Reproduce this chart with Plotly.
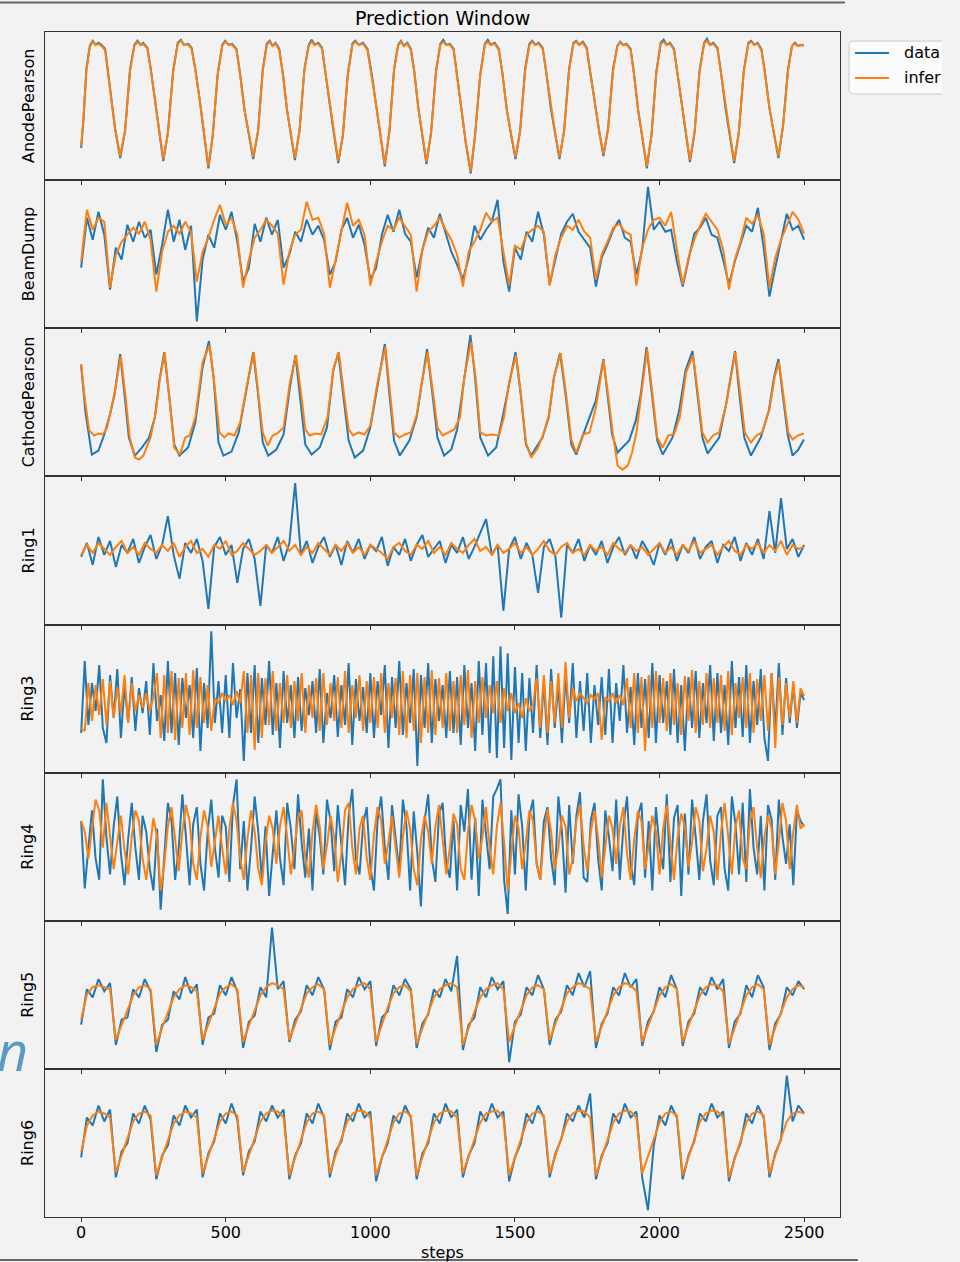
import plotly.graph_objects as go
from plotly.subplots import make_subplots

# ---------------------------------------------------------------- data
step_ticks = [0, 500, 1000, 1500, 2000, 2500]
steps_20 = list(range(0, 2501, 20))
steps_12 = [i * 12.5 for i in range(201)]

anode_steps = [
    0, 8, 18, 30, 40, 50, 60, 70, 83, 100, 117, 135,
    152, 169, 184, 195, 205, 215, 229, 240, 255, 268, 284,
    300, 318, 334, 345, 355, 370, 382, 395, 410, 425, 440,
    455, 472, 488, 498, 510, 522, 537, 550, 565, 580, 595,
    612, 628, 642, 652, 662, 672, 685, 698, 712, 725, 739,
    755, 772, 787, 797, 807, 820, 833, 845, 860, 875, 889,
    905, 922, 938, 948, 960, 975, 990, 1005, 1020, 1035, 1050,
    1066, 1082, 1096, 1106, 1116, 1128, 1140, 1152, 1166, 1180, 1194,
    1210, 1227, 1242, 1252, 1262, 1275, 1288, 1300, 1315, 1330, 1347,
    1362, 1380, 1396, 1406, 1416, 1430, 1444, 1456, 1472, 1487, 1502,
    1518, 1535, 1550, 1560, 1570, 1582, 1596, 1608, 1624, 1640, 1654,
    1670, 1687, 1702, 1712, 1722, 1735, 1748, 1760, 1776, 1792, 1806,
    1822, 1839, 1854, 1864, 1874, 1886, 1900, 1912, 1926, 1942, 1956,
    1972, 1989, 2004, 2014, 2024, 2036, 2050, 2062, 2077, 2092, 2105,
    2121, 2138, 2154, 2164, 2174, 2186, 2200, 2212, 2228, 2244, 2258,
    2274, 2291, 2307, 2317, 2327, 2339, 2352, 2364, 2380, 2396, 2411,
    2427, 2444, 2458, 2468, 2478, 2490, 2499,
]
anode_data = [
    33, 60, 110, 133, 138, 134, 136, 134, 130, 93, 53, 23,
    50, 110, 134, 138, 134, 136, 131, 112, 80, 52, 20,
    48, 108, 136, 139, 134, 135, 131, 110, 80, 45, 13,
    45, 105, 134, 138, 134, 135, 130, 105, 70, 45, 22,
    50, 110, 135, 138, 133, 136, 130, 105, 70, 45, 21,
    50, 110, 134, 139, 134, 136, 131, 108, 75, 45, 18,
    45, 105, 135, 138, 134, 136, 130, 105, 75, 45, 15,
    50, 110, 134, 138, 133, 136, 130, 108, 72, 42, 17,
    48, 108, 135, 139, 134, 135, 130, 105, 70, 38, 8,
    45, 105, 135, 139, 134, 136, 130, 108, 70, 45, 22,
    50, 110, 135, 138, 134, 136, 131, 108, 72, 45, 22,
    50, 110, 136, 138, 134, 137, 131, 108, 75, 48, 25,
    52, 110, 133, 137, 134, 135, 130, 105, 70, 40, 13,
    45, 108, 136, 139, 134, 136, 130, 106, 72, 45, 19,
    48, 108, 136, 140, 134, 136, 131, 108, 72, 45, 18,
    48, 108, 136, 138, 134, 136, 130, 108, 72, 45, 23,
    55, 110, 133, 136, 133, 134, 133,
]
anode_infer = [
    35, 62, 108, 132, 137, 134, 135, 133, 129, 92, 52, 25,
    50, 108, 133, 137, 134, 135, 130, 111, 80, 52, 22,
    47, 107, 135, 138, 134, 134, 130, 109, 80, 46, 15,
    45, 104, 133, 137, 134, 134, 129, 104, 70, 46, 24,
    50, 108, 134, 137, 133, 135, 129, 104, 70, 46, 23,
    49, 109, 133, 137, 134, 135, 130, 107, 75, 46, 20,
    45, 104, 134, 137, 134, 135, 129, 104, 75, 46, 17,
    49, 109, 133, 137, 133, 135, 129, 107, 72, 43, 19,
    48, 107, 134, 137, 134, 134, 129, 104, 70, 39, 10,
    45, 104, 134, 137, 134, 135, 129, 107, 70, 46, 24,
    50, 108, 134, 137, 134, 135, 130, 107, 72, 46, 24,
    49, 108, 135, 137, 134, 136, 130, 107, 75, 48, 27,
    51, 108, 133, 136, 134, 134, 129, 104, 70, 41, 15,
    45, 107, 135, 137, 134, 135, 129, 105, 72, 46, 21,
    48, 107, 135, 138, 134, 135, 130, 107, 72, 46, 20,
    48, 107, 135, 137, 134, 135, 129, 107, 72, 46, 25,
    54, 108, 133, 135, 133, 134, 134,
]

beamdump_data = [
    62, 112, 90, 118, 95, 40, 82, 70, 105, 88,
    108, 92, 100, 55, 85, 120, 88, 110, 80, 104,
    8, 70, 95, 82, 115, 100, 118, 88, 48, 62,
    106, 88, 112, 95, 110, 62, 75, 98, 88, 110,
    95, 104, 90, 55, 68, 100, 112, 92, 105, 85,
    50, 62, 95, 115, 98, 120, 96, 88, 52, 80,
    102, 92, 116, 96, 78, 65, 50, 72, 104, 90,
    100, 108, 130, 68, 38, 82, 70, 98, 88, 118,
    95, 45, 72, 96, 108, 116, 98, 90, 82, 43,
    72, 85, 100, 110, 92, 88, 55, 80, 143, 100,
    108, 98, 100, 68, 43, 70, 96, 102, 112, 95,
    92, 70, 45, 68, 85, 104, 98, 122, 82, 33,
    62, 90, 116, 100, 104, 90,
]
beamdump_infer = [
    68, 120, 100, 112, 108, 42, 75, 88, 95, 102,
    96, 108, 90, 38, 78, 98, 104, 96, 108, 98,
    48, 78, 92, 110, 125, 105, 112, 95, 42, 70,
    92, 100, 110, 104, 96, 45, 78, 95, 100, 128,
    110, 112, 96, 42, 70, 98, 127, 104, 110, 95,
    44, 68, 88, 104, 100, 112, 104, 95, 38, 80,
    98, 104, 112, 100, 90, 75, 43, 78, 88, 100,
    117, 108, 112, 80, 44, 84, 80, 95, 100, 104,
    98, 44, 75, 92, 104, 100, 110, 98, 92, 50,
    75, 88, 102, 106, 98, 95, 44, 82, 100, 110,
    112, 104, 118, 80, 45, 72, 90, 104, 116, 108,
    100, 80, 40, 70, 88, 112, 106, 115, 96, 42,
    72, 90, 104, 118, 110, 96,
]

cathode_data_steps = [
    0, 15, 37, 60, 80, 100, 115, 135, 150, 165, 186, 210, 235, 255, 270, 287,
    305, 322, 340, 370, 395, 420, 442, 458, 475, 492, 520, 545, 570, 595,
    612, 628, 647, 675, 700, 722, 741, 757, 775, 797, 825, 850, 872, 889,
    907, 925, 946, 975, 1000, 1025, 1050, 1066, 1082, 1102, 1135, 1160, 1178, 1196,
    1214, 1232, 1255, 1280, 1300, 1325, 1346, 1362, 1380, 1407, 1435, 1455, 1480, 1502,
    1520, 1538, 1556, 1595, 1617, 1635, 1656, 1675, 1695, 1712, 1745, 1780, 1806,
    1820, 1836, 1855, 1895, 1918, 1935, 1955, 1975, 1992, 2011, 2045, 2068, 2090, 2114,
    2132, 2148, 2166, 2206, 2230, 2261, 2276, 2293, 2316, 2350, 2378, 2396, 2411,
    2425, 2443, 2460, 2480, 2499,
]
cathode_data = [
    112, 65, 23, 27, 43, 63, 82, 123, 83, 40, 22, 30, 40, 60, 95, 125,
    80, 33, 22, 30, 55, 110, 136, 100, 35, 22, 26, 45, 85, 125,
    83, 35, 22, 28, 43, 90, 122, 83, 33, 23, 30, 50, 107, 124,
    83, 37, 20, 27, 50, 90, 133, 83, 37, 22, 37, 60, 93, 128,
    85, 40, 22, 28, 48, 100, 142, 100, 40, 22, 30, 57, 95, 125,
    83, 33, 22, 40, 60, 100, 124, 83, 33, 23, 50, 77, 118,
    83, 43, 25, 37, 57, 83, 130, 83, 37, 23, 40, 67, 107, 126,
    83, 40, 24, 40, 73, 126, 83, 40, 22, 40, 67, 100, 118,
    83, 43, 22, 28, 38,
]
cathode_infer_steps = [
    0, 12, 28, 45, 60, 75, 90, 105, 118, 137, 152, 168, 186, 200, 215, 240,
    258, 272, 289, 305, 322, 342, 360, 375, 395, 420, 444, 460, 478, 495,
    510, 530, 550, 572, 597, 612, 628, 645, 662, 678, 700, 722, 743, 760,
    775, 790, 810, 830, 852, 872, 891, 908, 925, 940, 960, 980, 1000, 1025,
    1052, 1068, 1082, 1100, 1120, 1140, 1160, 1178, 1198, 1215, 1232, 1250, 1270, 1290,
    1310, 1325, 1348, 1364, 1380, 1400, 1420, 1445, 1462, 1480, 1504, 1520, 1538, 1556,
    1580, 1600, 1617, 1635, 1658, 1676, 1695, 1712, 1735, 1758, 1780, 1806, 1822, 1838,
    1855, 1872, 1890, 1905, 1920, 1938, 1957, 1975, 1992, 2011, 2030, 2050, 2070, 2092,
    2116, 2132, 2148, 2166, 2185, 2206, 2232, 2262, 2278, 2295, 2316, 2335, 2355, 2380,
    2398, 2413, 2428, 2445, 2460, 2478, 2499,
]
cathode_infer = [
    113, 80, 47, 42, 44, 43, 50, 70, 88, 121, 85, 40, 20, 18, 22, 40,
    65, 98, 125, 80, 30, 23, 40, 42, 60, 115, 132, 95, 45, 40,
    44, 42, 55, 90, 125, 85, 45, 32, 42, 44, 50, 95, 122, 85,
    48, 42, 44, 43, 60, 108, 125, 85, 48, 42, 45, 43, 52, 95,
    130, 85, 45, 40, 43, 45, 62, 95, 125, 88, 50, 42, 45, 48,
    60, 100, 135, 100, 45, 42, 43, 42, 60, 95, 122, 85, 35, 20,
    30, 45, 62, 100, 124, 85, 38, 25, 43, 45, 70, 117, 83, 45,
    12, 8, 12, 25, 45, 83, 128, 85, 40, 30, 42, 43, 60, 105,
    122, 85, 45, 35, 42, 45, 75, 125, 85, 45, 35, 42, 45, 68,
    100, 115, 83, 45, 38, 42, 44,
]

ring1_data = [
    68, 82, 60, 88, 70, 84, 58, 80, 72, 86,
    62, 78, 90, 66, 80, 109, 70, 46, 82, 72,
    86, 64, 16, 78, 88, 70, 80, 42, 76, 86,
    66, 19, 80, 72, 88, 64, 82, 142, 70, 84,
    62, 78, 88, 68, 80, 60, 84, 72, 86, 66,
    80, 74, 88, 59, 78, 70, 86, 64, 80, 90,
    68, 76, 84, 62, 80, 72, 88, 66, 78, 92,
    106, 70, 80, 14, 76, 88, 66, 82, 70, 32,
    78, 86, 68, 7, 80, 72, 86, 64, 80, 70,
    84, 62, 78, 88, 70, 80, 66, 84, 74, 60,
    82, 70, 86, 64, 80, 72, 88, 66, 78, 84,
    62, 80, 74, 88, 64, 82, 70, 86, 66, 114,
    72, 127, 76, 86, 68, 80,
]
ring1_infer = [
    70, 80, 72, 82, 76, 70, 78, 84, 72, 78,
    70, 82, 76, 72, 80, 74, 82, 68, 78, 84,
    72, 76, 68, 80, 76, 84, 70, 74, 82, 76,
    70, 74, 80, 72, 78, 84, 74, 80, 70, 78,
    72, 82, 76, 70, 80, 74, 82, 72, 78, 70,
    80, 76, 72, 66, 78, 82, 74, 70, 80, 76,
    84, 72, 78, 70, 82, 76, 72, 80, 86, 74,
    78, 70, 80, 72, 76, 82, 72, 78, 70, 76,
    84, 74, 70, 78, 82, 72, 76, 70, 80, 74,
    78, 70, 82, 76, 72, 80, 74, 78, 70, 76,
    82, 72, 78, 70, 80, 74, 84, 72, 76, 80,
    70, 78, 84, 74, 70, 80, 76, 82, 72, 80,
    74, 84, 70, 80, 76, 78,
]

ring3_data = [
    40, 112, 48, 90, 62, 108, 45, 30,
    98, 55, 104, 35, 88, 50, 96, 42,
    85, 60, 92, 38, 110, 52, 78, 32,
    112, 40, 100, 28, 95, 55, 88, 35,
    105, 22, 90, 45, 142, 50, 92, 40,
    98, 35, 110, 55, 84, 12, 100, 40,
    108, 30, 95, 48, 112, 38, 90, 25,
    102, 50, 88, 35, 96, 42, 85, 58,
    92, 40, 104, 30, 80, 55, 98, 36,
    88, 48, 110, 28, 94, 52, 86, 40,
    100, 35, 92, 58, 108, 25, 96, 45,
    112, 38, 90, 50, 104, 7, 98, 45,
    110, 30, 94, 52, 88, 35, 102, 40,
    96, 28, 108, 45, 90, 22, 112, 38,
    110, 20, 117, 15, 127, 25, 120, 13,
    106, 30, 100, 22, 95, 40, 108, 35,
    92, 28, 104, 45, 88, 30, 98, 50,
    110, 35, 92, 42, 100, 30, 88, 48,
    96, 38, 104, 30, 90, 52, 108, 40,
    86, 28, 100, 45, 94, 35, 110, 30,
    98, 50, 92, 38, 104, 30, 88, 22,
    96, 45, 102, 35, 90, 50, 108, 32,
    100, 40, 88, 28, 112, 45, 96, 36,
    108, 30, 92, 48, 104, 35, 12, 100,
    42, 110, 38, 95, 50, 88, 45, 80, 73,
]
ring3_infer = [
    45, 42, 90, 52, 88, 58, 94, 48,
    92, 55, 86, 60, 98, 50, 90, 62,
    78, 65, 80, 62, 76, 100, 35, 98,
    40, 102, 33, 95, 45, 100, 38, 103,
    45, 96, 50, 88, 42, 75, 70, 80,
    72, 78, 68, 82, 70, 102, 40, 98,
    23, 100, 35, 95, 48, 102, 42, 90,
    50, 98, 45, 92, 52, 100, 40, 88,
    55, 95, 42, 100, 48, 90, 52, 96,
    45, 102, 40, 88, 55, 98, 42, 92,
    50, 96, 45, 100, 40, 90, 55, 95,
    38, 102, 35, 98, 42, 100, 30, 96,
    40, 103, 38, 95, 45, 100, 42, 92,
    40, 98, 48, 103, 35, 92, 50, 96,
    55, 88, 60, 92, 50, 85, 62, 80,
    60, 70, 55, 75, 62, 68, 95, 45,
    98, 40, 92, 50, 100, 45, 111, 55,
    85, 72, 80, 75, 70, 78, 74, 80,
    33, 76, 72, 80, 70, 78, 68, 95,
    45, 100, 40, 96, 22, 98, 45, 102,
    50, 95, 42, 100, 48, 90, 38, 97,
    52, 103, 40, 92, 48, 100, 45, 95,
    50, 98, 42, 102, 38, 90, 55, 96,
    45, 100, 40, 94, 52, 98, 42, 100,
    25, 96, 48, 90, 55, 92, 50, 85, 77,
]

ring4_data = [
    95, 32, 70, 105, 60, 40, 134, 80,
    45, 90, 118, 65, 35, 78, 112, 70,
    40, 100, 85, 50, 30, 88, 12, 60,
    112, 95, 40, 70, 120, 80, 35, 92,
    108, 55, 30, 85, 115, 70, 42, 100,
    90, 38, 110, 134, 50, 95, 30, 70,
    118, 85, 40, 90, 25, 65, 105, 60,
    35, 112, 88, 50, 120, 75, 42, 88,
    30, 104, 80, 45, 115, 95, 48, 110,
    70, 35, 100, 125, 60, 45, 92, 108,
    52, 30, 96, 118, 70, 40, 110, 80,
    48, 115, 90, 30, 104, 65, 15, 95,
    120, 60, 38, 102, 112, 55, 42, 96,
    30, 110, 85, 125, 40, 98, 25, 115,
    80, 50, 118, 125, 134, 40, 8, 105,
    45, 120, 90, 30, 100, 115, 55, 40,
    95, 108, 60, 35, 118, 85, 28, 110,
    55, 100, 122, 42, 38, 96, 112, 60,
    30, 105, 80, 48, 115, 40, 90, 118,
    55, 35, 100, 112, 42, 95, 30, 108,
    70, 50, 120, 38, 98, 110, 25, 102,
    45, 115, 80, 40, 95, 120, 58, 35,
    100, 108, 50, 30, 118, 92, 45, 112,
    38, 125, 70, 45, 100, 30, 110, 96,
    40, 115, 80, 55, 92, 35, 105, 95, 90,
]
ring4_infer = [
    95, 85, 60, 90, 115, 105, 70, 112,
    80, 50, 75, 100, 68, 45, 80, 105,
    95, 60, 40, 70, 98, 80, 30, 55,
    90, 108, 75, 48, 85, 110, 95, 55,
    40, 80, 105, 90, 52, 75, 100, 70,
    45, 88, 112, 95, 60, 40, 78, 105,
    85, 50, 35, 75, 100, 88, 55, 90,
    108, 80, 45, 70, 98, 105, 60, 42,
    85, 110, 90, 50, 72, 100, 80, 38,
    65, 105, 112, 70, 45, 88, 100, 60,
    40, 82, 108, 95, 55, 75, 100, 70,
    42, 80, 105, 88, 50, 35, 78, 100,
    85, 55, 90, 110, 75, 45, 70, 102,
    92, 50, 40, 85, 110, 95, 60, 80,
    108, 70, 45, 90, 112, 75, 30, 65,
    100, 88, 50, 75, 105, 95, 55, 40,
    80, 106, 85, 50, 70, 100, 90, 45,
    60, 95, 110, 72, 48, 85, 105, 80,
    42, 70, 100, 88, 55, 90, 108, 65,
    40, 78, 104, 95, 50, 72, 100, 85,
    45, 88, 110, 75, 40, 80, 102, 90,
    52, 75, 108, 95, 48, 70, 100, 85,
    40, 85, 112, 80, 45, 90, 105, 60,
    50, 95, 108, 70, 42, 80, 100, 88,
    45, 75, 112, 95, 50, 85, 110, 88, 92,
]

ring5_data = [
    45, 80, 72, 90, 78, 86, 25, 50, 52, 80,
    72, 90, 78, 18, 45, 50, 78, 70, 92, 76,
    85, 25, 52, 56, 84, 74, 92, 78, 22, 48,
    54, 82, 72, 141, 80, 88, 28, 50, 58, 84,
    74, 92, 80, 20, 48, 52, 80, 72, 92, 80,
    88, 24, 52, 58, 84, 74, 90, 80, 22, 46,
    55, 80, 72, 90, 78, 113, 20, 45, 52, 82,
    72, 92, 80, 88, 8, 48, 55, 82, 74, 94,
    80, 25, 50, 58, 84, 74, 96, 82, 98, 22,
    46, 56, 82, 74, 96, 82, 90, 24, 48, 58,
    82, 72, 94, 80, 24, 48, 56, 82, 74, 92,
    80, 90, 22, 48, 56, 84, 72, 94, 82, 20,
    46, 56, 82, 74, 88, 80,
]
ring5_infer = [
    50, 75, 82, 84, 82, 80, 30, 45, 60, 74,
    82, 84, 80, 25, 42, 58, 72, 80, 84, 82,
    78, 30, 45, 62, 76, 82, 85, 80, 28, 44,
    60, 74, 82, 86, 84, 80, 30, 46, 62, 76,
    82, 85, 80, 25, 42, 58, 72, 80, 84, 86,
    80, 28, 45, 62, 76, 82, 84, 78, 26, 42,
    58, 72, 80, 84, 86, 82, 25, 42, 58, 72,
    80, 84, 86, 80, 28, 44, 60, 74, 82, 84,
    80, 30, 46, 62, 76, 82, 86, 84, 80, 28,
    44, 60, 74, 82, 86, 84, 78, 28, 44, 60,
    74, 82, 85, 80, 28, 44, 60, 74, 82, 85,
    84, 78, 26, 42, 60, 74, 82, 85, 80, 25,
    42, 58, 72, 80, 84, 82,
]

ring6_data = [
    60, 100, 92, 112, 96, 108, 40, 66, 74, 104,
    94, 112, 98, 38, 62, 72, 102, 92, 112, 100,
    108, 40, 64, 76, 104, 94, 114, 98, 42, 66,
    76, 106, 96, 112, 100, 108, 38, 62, 74, 104,
    94, 114, 100, 40, 66, 76, 104, 96, 114, 100,
    106, 36, 60, 74, 102, 94, 112, 100, 38, 64,
    74, 104, 94, 114, 100, 108, 40, 62, 74, 106,
    96, 114, 100, 106, 36, 60, 74, 104, 94, 112,
    100, 40, 64, 78, 104, 96, 112, 100, 124, 38,
    62, 74, 104, 94, 114, 100, 106, 40, 7, 72,
    102, 92, 112, 100, 38, 62, 76, 104, 96, 114,
    100, 106, 36, 60, 74, 104, 94, 112, 100, 40,
    64, 78, 142, 96, 112, 104,
]
ring6_infer = [
    65, 92, 102, 106, 104, 100, 45, 62, 80, 96,
    104, 106, 102, 42, 60, 78, 94, 102, 106, 104,
    100, 44, 62, 80, 96, 104, 106, 102, 45, 62,
    80, 96, 104, 107, 106, 100, 42, 60, 78, 95,
    104, 106, 102, 44, 62, 80, 96, 104, 107, 106,
    100, 42, 60, 78, 95, 104, 106, 102, 42, 60,
    78, 95, 104, 107, 106, 100, 44, 60, 78, 95,
    104, 106, 107, 100, 42, 60, 78, 95, 104, 106,
    102, 44, 62, 80, 96, 104, 107, 106, 100, 42,
    60, 78, 95, 104, 107, 106, 100, 44, 60, 78,
    95, 104, 106, 102, 42, 60, 80, 96, 104, 107,
    106, 100, 40, 58, 78, 95, 104, 106, 102, 44,
    62, 80, 96, 104, 106, 104,
]

panels = [
    ("AnodePearson", anode_steps, anode_data, anode_steps, anode_infer),
    ("BeamDump", steps_20, beamdump_data, steps_20, beamdump_infer),
    ("CathodePearson", cathode_data_steps, cathode_data, cathode_infer_steps, cathode_infer),
    ("Ring1", steps_20, ring1_data, steps_20, ring1_infer),
    ("Ring3", steps_12, ring3_data, steps_12, ring3_infer),
    ("Ring4", steps_12, ring4_data, steps_12, ring4_infer),
    ("Ring5", steps_20, ring5_data, steps_20, ring5_infer),
    ("Ring6", steps_20, ring6_data, steps_20, ring6_infer),
]

# ---------------------------------------------------------------- layout
W, H = 960, 1262
ML, MR, MT, MB = 45, 120, 32, 45
BG = "#f2f2f2"
FONT = "DejaVu Sans"
BLUE, ORANGE = "#1f77b4", "#ff7f0e"
FRAME = "#333333"


def px_x(px):
    return (px - ML) / (W - ML - MR)


def px_y(py):
    return (H - MB - py) / (H - MT - MB)


n = len(panels)
fig = make_subplots(rows=n, cols=1, shared_xaxes=True, vertical_spacing=0)

for row, (label, xd, yd, xi, yi) in enumerate(panels, start=1):
    fig.add_trace(go.Scatter(x=xd, y=yd, mode="lines", name="data",
                             line=dict(color=BLUE, width=2),
                             showlegend=False, hoverinfo="skip"), row=row, col=1)
    fig.add_trace(go.Scatter(x=xi, y=yi, mode="lines", name="infer",
                             line=dict(color=ORANGE, width=2),
                             showlegend=False, hoverinfo="skip"), row=row, col=1)
    lo = min(min(yd), min(yi))
    hi = max(max(yd), max(yi))
    pad = 0.05 * (hi - lo)
    fig.update_yaxes(range=[lo - pad, hi + pad], row=row, col=1)
    fig.add_annotation(text=label, textangle=-90, xref="paper", yref="paper",
                       x=px_x(28), y=1 - (row - 0.5) / n, xanchor="center",
                       yanchor="middle", showarrow=False,
                       font=dict(family=FONT, size=16, color="black"))

fig.update_xaxes(range=[-124.95, 2623.95], tickvals=step_ticks,
                 ticks="outside", ticklen=4, tickwidth=1, tickcolor=FRAME,
                 ticklabelstandoff=-3,
                 showline=True, mirror=True, linecolor=FRAME, linewidth=1,
                 showgrid=False, zeroline=False,
                 tickfont=dict(family=FONT, size=16, color="black"))
fig.update_yaxes(showticklabels=False, ticks="", showgrid=False,
                 zeroline=False, showline=True, mirror=True,
                 linecolor=FRAME, linewidth=1)

annotations = [
    dict(text="Prediction Window", x=px_x(442.5), y=px_y(18),
         font=dict(family=FONT, size=19, color="black")),
    dict(text="steps", x=px_x(442.5), y=px_y(1252),
         font=dict(family=FONT, size=16, color="black")),
    dict(text="data", x=px_x(902), y=px_y(53), xanchor="left",
         font=dict(family=FONT, size=16, color="black")),
    dict(text="infer", x=px_x(902), y=px_y(78), xanchor="left",
         font=dict(family=FONT, size=16, color="black")),
    dict(text="n", x=px_x(30), y=px_y(1050), xanchor="right",
         font=dict(family="Open Sans", size=54, color="#5a9bc3",
                   style="italic")),
]
for a in annotations:
    a.setdefault("xanchor", "center")
    fig.add_annotation(xref="paper", yref="paper", yanchor="middle",
                       showarrow=False, **a)

# legend box (open on the right edge) and its two line samples
lx0, lx1, ly0, ly1, r = 849, 942, 41, 94, 4
legend_path = (
    f"M {px_x(lx1)},{px_y(ly0)} L {px_x(lx0 + r)},{px_y(ly0)} "
    f"Q {px_x(lx0)},{px_y(ly0)} {px_x(lx0)},{px_y(ly0 + r)} "
    f"L {px_x(lx0)},{px_y(ly1 - r)} "
    f"Q {px_x(lx0)},{px_y(ly1)} {px_x(lx0 + r)},{px_y(ly1)} "
    f"L {px_x(lx1)},{px_y(ly1)}"
)
shapes = [
    dict(type="rect", x0=px_x(lx0 + 1), x1=px_x(lx1), y0=px_y(ly0 + 1),
         y1=px_y(ly1 - 1), fillcolor="#fbfbfb", line=dict(width=0)),
    dict(type="path", path=legend_path, line=dict(color="#cccccc", width=1)),
    dict(type="line", x0=px_x(855), x1=px_x(889), y0=px_y(53), y1=px_y(53),
         line=dict(color=BLUE, width=2)),
    dict(type="line", x0=px_x(855), x1=px_x(889), y0=px_y(78), y1=px_y(78),
         line=dict(color=ORANGE, width=2)),
    # page rules above and below the figure
    dict(type="line", x0=px_x(0), x1=px_x(845), y0=px_y(2.5), y1=px_y(2.5),
         line=dict(color="#666666", width=2)),
    dict(type="line", x0=px_x(0), x1=px_x(858), y0=px_y(1260), y1=px_y(1260),
         line=dict(color="#666666", width=2)),
    dict(type="line", x0=px_x(447), x1=px_x(447), y0=px_y(1255), y1=px_y(1262),
         line=dict(color="#333333", width=1)),
]
for s in shapes:
    fig.add_shape(xref="paper", yref="paper", layer="above", **s)

fig.update_layout(width=W, height=H, margin=dict(l=ML, r=MR, t=MT, b=MB),
                  paper_bgcolor=BG, plot_bgcolor=BG, showlegend=False,
                  font=dict(family=FONT, color="black"))

fig.write_html("out.html")
